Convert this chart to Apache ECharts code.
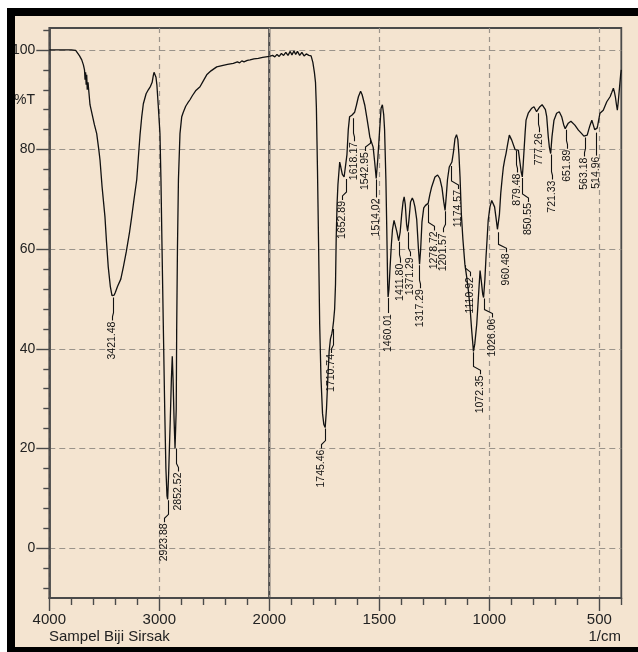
<!DOCTYPE html>
<html><head><meta charset="utf-8">
<script src="https://cdn.jsdelivr.net/npm/echarts@6/dist/echarts.min.js"></script>
<style>
html,body{margin:0;padding:0;background:#fff;width:638px;height:652px;overflow:hidden}
#bg{position:absolute;left:7px;top:8px;width:640px;height:644px;box-sizing:border-box;background:#F4E4D0;border-left:8px solid #000;border-top:8px solid #000;border-bottom:5px solid #000}
#chart{position:absolute;left:0;top:0;width:638px;height:652px}
#frame{position:absolute;left:7px;top:8px;width:640px;height:644px;box-sizing:border-box;border-left:8px solid #000;border-top:8px solid #000;border-bottom:5px solid #000;pointer-events:none}
</style></head><body>
<div id="bg"></div><div id="chart"></div><div id="frame"></div>
<script>
// ---- data: 4000-2000 1/cm ----
const highWavenumber = [
 4000,3900,3800,3760,3745,3725,3705,3690,3680,3675,
 3670,3665,3660,3655,3648,3640,3630,3620,3610,3590,
 3569,3550,3539,3520,3494,3480,3464,3445,3430,3421,
 3410,3400,3380,3350,3327,3300,3270,3251,3230,3205,
 3190,3175,3160,3145,3120,3100,3080,3065,3055,3048,
 3040,3030,3022,3010,2994,2985,2975,2964,2950,2940,
 2930,2924,2915,2900,2890,2882,2875,2866,2857,2852,
 2846,2842,2835,2826,2812,2796,2782,2760,2740,2721,
 2700,2670,2630,2600,2569,2530,2478,2420,2380,2327,
 2290,2270,2250,2230,2200,2175,2140,2100,2060,2030,
 2000];
const highTransmittance = [
 100.0,100.0,100.0,99.9,99.6,98.8,98.0,97.0,96.0,94.0,
 95.5,93.0,95.0,92.0,93.5,91.5,89.0,88.0,87.0,85.0,
 83.2,80.0,77.9,72.5,66.5,61.5,56.4,52.5,50.7,50.5,
 50.8,51.3,52.5,54.0,56.4,59.5,63.5,66.5,70.0,74.0,
 78.5,83.0,86.5,89.2,91.2,92.0,92.7,93.5,94.8,95.5,
 95.3,94.5,93.0,89.0,83.2,74.0,60.0,45.3,27.0,16.0,
 10.5,9.8,15.0,26.0,34.0,38.5,34.0,26.0,20.0,20.2,
 28.0,43.7,60.0,74.0,83.2,86.6,87.5,88.7,89.4,90.0,
 90.8,91.8,92.6,93.8,95.0,95.8,96.6,96.9,97.1,97.3,
 97.6,97.4,97.8,97.6,97.9,98.0,98.2,98.3,98.5,98.6,
 98.7];
// ---- data: 2000-400 1/cm ----
const lowWavenumber = [
 2000,1985,1975,1965,1955,1945,1935,1925,1915,1905,
 1897,1888,1880,1872,1862,1852,1842,1832,1820,1810,
 1802,1795,1790,1786,1781,1776,1771,1765,1758,1752,
 1746,1740,1734,1728,1722,1716,1712,1708,1703,1699,
 1696,1692,1688,1680,1675,1668,1660,1653,1647,1641,
 1635,1625,1618,1612,1604,1595,1585,1578,1566,1557,
 1548,1543,1535,1528,1521,1514,1507,1500,1492,1486,
 1480,1476,1470,1466,1462,1460,1456,1451,1445,1440,
 1433,1428,1420,1412,1405,1398,1392,1387,1382,1376,
 1371,1365,1358,1350,1345,1338,1330,1322,1317,1312,
 1306,1298,1290,1283,1278,1270,1262,1247,1235,1225,
 1215,1207,1201,1195,1190,1182,1176,1170,1163,1156,
 1149,1143,1138,1133,1127,1120,1111,1103,1095,1087,
 1080,1072,1066,1057,1050,1042,1036,1030,1026,1020,
 1015,1010,1005,997,989,982,976,970,963,959,
 954,948,942,936,930,924,917,909,903,898,
 891,883,879,874,868,860,855,850,846,842,
 837,833,823,815,807,797,790,785,777,770,
 760,751,745,739,732,727,721,715,706,694,
 682,671,662,655,648,641,629,620,611,595,
 580,570,563,555,548,542,534,527,521,515,
 510,507,497,482,466,451,443,436,431,427,
 422,418,414,409,403,400];
const lowTransmittance = [
 98.7,98.9,98.6,99.1,98.7,99.3,98.9,99.5,98.9,99.7,
 99.0,99.8,99.1,99.7,98.9,99.5,98.8,99.2,98.9,98.8,
 97.5,95.5,93.5,88.5,76.0,61.0,45.0,34.0,27.0,24.8,
 24.2,28.0,34.0,39.5,42.0,43.0,44.0,45.5,48.0,53.0,
 62.0,69.0,73.0,77.5,76.5,75.0,74.5,74.3,79.0,84.0,
 86.6,86.9,86.5,87.5,88.9,90.6,91.7,91.0,88.9,86.5,
 84.0,82.5,82.8,80.5,77.5,74.2,78.0,82.9,88.3,89.0,
 87.0,84.0,74.0,64.0,53.0,50.4,52.0,56.4,61.0,64.0,
 65.8,65.5,63.5,61.7,63.5,67.1,69.5,70.5,69.0,65.0,
 63.6,66.0,69.5,70.3,69.8,68.5,66.0,60.0,57.0,60.0,
 65.5,68.3,68.8,68.8,69.2,71.0,72.5,74.5,74.9,74.2,
 72.3,69.5,67.8,71.0,74.0,76.5,76.9,77.5,79.5,82.2,
 83.0,82.0,79.0,74.5,67.0,62.0,57.0,54.5,51.7,48.0,
 43.7,39.5,41.0,45.0,50.0,55.7,53.5,51.0,50.3,54.0,
 58.4,62.0,65.8,68.5,69.8,69.8,68.5,66.5,64.0,63.6,
 67.0,71.2,74.0,76.5,78.0,79.2,81.0,82.9,82.6,81.9,
 81.9,80.0,80.0,80.3,79.9,77.2,75.5,74.5,77.0,79.9,
 83.5,85.9,87.3,87.8,88.3,88.6,88.2,87.6,87.5,88.6,
 89.0,89.1,88.0,86.6,82.6,80.5,79.2,82.6,85.9,87.3,
 87.6,86.6,85.0,84.2,84.6,85.3,85.7,85.3,84.9,83.9,
 83.2,82.7,82.6,82.9,84.0,84.9,85.9,84.9,84.0,83.6,
 84.3,84.9,87.3,87.9,89.6,90.6,91.5,92.3,91.5,90.6,
 89.0,87.9,89.5,92.0,95.0,96.0];
// ---- peak table ----
const peakWavenumber = [3421.48,2923.88,2852.52,1745.46,1710.74,1652.89,1618.17,1542.95,1514.02,1460.01,
 1411.80,1371.29,1317.29,1278.72,1201.57,1174.57,1110.92,1072.35,1026.06,960.48,
 879.48,850.55,777.26,721.33,651.89,563.18,514.96];
const peakTransmittance = [50.5,9.8,20.2,24.2,44.2,74.3,86.5,82.5,74.2,50.4,
 61.7,63.6,57.0,69.2,67.8,76.9,57.0,39.5,50.3,63.6,
 80.0,74.5,87.5,79.2,84.2,82.6,83.6];
// ---- ticks ----
const yLabelValues = [0,20,40,60,80,100];
const yMinorValues = [-8,-4,4,8,12,16,24,28,32,36,44,48,52,56,64,68,72,76,84,88,92,96,104];
const xHighLabels = [4000,3000,2000];
const xHighMinor = [2200,2400,2600,2800,3200,3400,3600,3800];
const xLowLabels = [1500,1000,500];
const xLowMinor = [400,600,700,800,900,1100,1200,1300,1400,1600,1700,1800,1900];
// ---- label layout (pixels) ----
const labelShift = [-1,-4,2,-4,-2,-4,1,-5,0,0, 1,2,1,6,-2,7,5,7,8,8, 1,6,1,1,1,-1,0];
const labelDrop  = [25,24,25,22,26,23,25,15,20,17, 23,26,25,28,23,25,13,24,21,22, 24,26,21,27,21,21,25];

const FONT = '"Liberation Sans", Arial, sans-serif';
const AX = '#4a4a4a';
const GRIDC = '#9a938a';

function pairs(xs, ys){ return xs.map((x,i)=>[x, ys[i]]); }
function peaksWhere(fn){
  const out=[]; peakWavenumber.forEach((w,i)=>{ if(fn(w)) out.push([w, peakTransmittance[i], i]); }); return out;
}
function renderPeak(params, api){
  const i = api.value(2);
  const p = api.coord([api.value(0), api.value(1)]);
  const x = Math.round(p[0]) + 0.5, y = p[1];
  const dx = labelShift[i], d = labelDrop[i];
  return { type:'group', children:[
    { type:'polyline', shape:{ points:[[x,y+1],[x,y+d-9],[x+dx,y+d-5],[x+dx,y+d-1]] },
      style:{ stroke:'#111', lineWidth:1.1, fill:null } },
    { type:'text', x:x+dx, y:y+d, rotation:Math.PI/2,
      style:{ text: peakWavenumber[i].toFixed(2), align:'right', verticalAlign:'middle',
              textAlign:'right', textVerticalAlign:'middle', font:'10.5px ' + FONT, fill:'#111' } }
  ]};
}
const plainNumber = v => String(v);

function xAxisMain(grid, min, max, labels){
  return { type:'value', gridIndex:grid, min, max, inverse:true, position:'bottom',
    axisLine:{ show:true, onZero:false, lineStyle:{ color:AX, width:1.8 } },
    axisTick:{ show:true, inside:false, length:13, customValues:labels, lineStyle:{ color:AX, width:1.4 } },
    axisLabel:{ show:true, customValues:labels, formatter:plainNumber, fontSize:15, fontFamily:FONT, color:'#222', margin:14 },
    splitLine:{ show:true, lineStyle:{ color:GRIDC, width:1.2, type:[5,4] } } };
}
function xAxisMinor(grid, min, max, vals){
  return { type:'value', gridIndex:grid, min, max, inverse:true, position:'bottom', offset:0,
    axisLine:{ show:false, onZero:false },
    axisTick:{ show:true, inside:false, length:7, customValues:vals, lineStyle:{ color:AX, width:1.4 } },
    axisLabel:{ show:false }, splitLine:{ show:false } };
}

const chart = echarts.init(document.getElementById('chart'), null, { renderer:'canvas' });
chart.setOption({
  animation:false,
  backgroundColor:'transparent',
  grid:[
    { left:49.3, top:28, width:220, height:570, show:true, borderColor:AX, borderWidth:1.8, backgroundColor:'transparent', outerBoundsMode:'none', containLabel:false },
    { left:269.3, top:28, width:352, height:570, show:true, borderColor:AX, borderWidth:1.8, backgroundColor:'transparent', outerBoundsMode:'none', containLabel:false }
  ],
  xAxis:[
    xAxisMain(0, 2000, 4000, xHighLabels),
    xAxisMain(1, 400, 2000, xLowLabels),
    xAxisMinor(0, 2000, 4000, xHighMinor),
    xAxisMinor(1, 400, 2000, xLowMinor)
  ],
  yAxis:[
    { type:'value', gridIndex:0, min:-10, max:104.4, position:'left',
      axisLine:{ show:true, onZero:false, lineStyle:{ color:AX, width:1.8 } },
      axisTick:{ show:true, length:13, customValues:yLabelValues, lineStyle:{ color:AX, width:1.4 } },
      axisLabel:{ show:true, customValues:yLabelValues, formatter:plainNumber, fontSize:14, fontFamily:FONT, color:'#222', margin:14 },
      splitLine:{ show:true, lineStyle:{ color:GRIDC, width:1.2, type:[6,4] } } },
    { type:'value', gridIndex:1, min:-10, max:104.4, position:'left',
      axisLine:{ show:false, onZero:false },
      axisTick:{ show:false, customValues:yLabelValues },
      axisLabel:{ show:false, customValues:yLabelValues },
      splitLine:{ show:true, lineStyle:{ color:GRIDC, width:1.2, type:[6,4] } } },
    { type:'value', gridIndex:0, min:-10, max:104.4, position:'left', offset:0,
      axisLine:{ show:false, onZero:false },
      axisTick:{ show:true, length:6, customValues:yMinorValues, lineStyle:{ color:AX, width:1.4 } },
      axisLabel:{ show:false }, splitLine:{ show:false } }
  ],
  series:[
    { type:'line', xAxisIndex:0, yAxisIndex:0, data:pairs(highWavenumber, highTransmittance),
      showSymbol:false, symbol:'none', z:5, lineStyle:{ color:'#111', width:1.3 } },
    { type:'line', xAxisIndex:1, yAxisIndex:1, data:pairs(lowWavenumber, lowTransmittance),
      showSymbol:false, symbol:'none', z:5, lineStyle:{ color:'#111', width:1.3 } },
    { type:'custom', xAxisIndex:0, yAxisIndex:0, z:6, clip:false, renderItem:renderPeak,
      data:peaksWhere(w=>w>2000), encode:{ x:0, y:1 } },
    { type:'custom', xAxisIndex:1, yAxisIndex:1, z:6, clip:false, renderItem:renderPeak,
      data:peaksWhere(w=>w<=2000), encode:{ x:0, y:1 } }
  ],
  graphic:[
    { type:'text', x:35, y:100, style:{ text:'%T', align:'right', verticalAlign:'middle', font:'14px ' + FONT, fill:'#222' } },
    { type:'text', x:49, y:637, style:{ text:'Sampel Biji Sirsak', align:'left', verticalAlign:'middle', font:'15px ' + FONT, fill:'#222' } },
    { type:'text', x:621, y:637, style:{ text:'1/cm', align:'right', verticalAlign:'middle', font:'15px ' + FONT, fill:'#222' } }
  ]
});
</script>
</body></html>
